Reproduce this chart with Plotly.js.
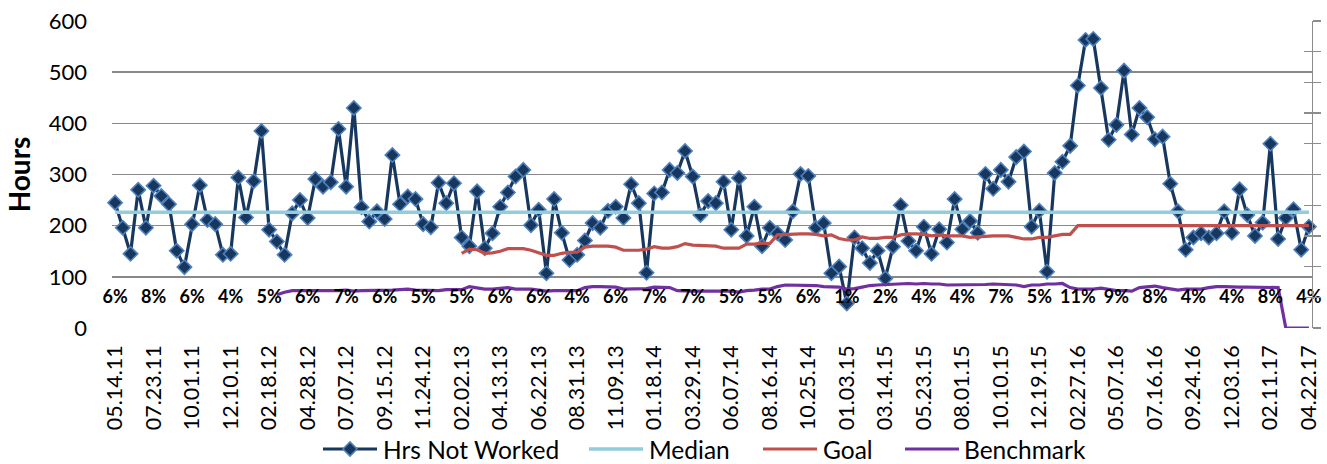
<!DOCTYPE html>
<html><head><meta charset="utf-8">
<script src="https://cdn.plot.ly/plotly-3.0.1.min.js"></script>
<style>html,body{margin:0;padding:0;background:#fff}#chart{width:1327px;height:464px}</style>
</head><body><div id="chart"></div>
<script>
const tickLabels = ["05.14.11","07.23.11","10.01.11","12.10.11","02.18.12","04.28.12","07.07.12","09.15.12","11.24.12","02.02.13","04.13.13","06.22.13","08.31.13","11.09.13","01.18.14","03.29.14","06.07.14","08.16.14","10.25.14","01.03.15","03.14.15","05.23.15","08.01.15","10.10.15","12.19.15","02.27.16","05.07.16","07.16.16","09.24.16","12.03.16","02.11.17","04.22.17"];
const labelEvery = 5;

const hrsNotWorked = [
245,196,145,270,196,278,258,242,151,119,
203,279,211,203,143,145,294,216,287,385,
192,169,143,224,250,215,291,276,285,389,
276,430,236,208,228,213,338,242,257,252,
203,197,284,244,283,177,160,267,156,185,
237,265,296,309,201,231,107,252,186,133,
143,171,205,196,229,237,215,281,244,108,
263,265,309,303,346,296,221,248,244,286,
192,293,180,237,160,196,185,172,228,301,
297,196,205,107,120,48,177,156,127,151,
97,159,240,170,151,198,145,193,167,252,
193,209,186,301,272,309,286,334,345,198,
229,110,303,325,356,474,563,565,469,368,
397,503,378,430,412,369,374,282,228,153,
177,185,177,185,228,186,271,221,180,206,
360,174,215,232,153,198];

const medianValue = 226;

const goalStart = 45;
const goal = [
146,154,153,146,147,150,155,155,155,152,
147,142,142,146,148,148,158,160,160,160,
158,152,152,152,154,159,156,156,159,165,
162,161,161,160,156,156,156,164,164,166,
165,182,183,184,184,184,183,180,182,175,
172,172,178,175,175,177,177,182,184,184,
183,180,182,180,180,180,177,178,180,180,
180,180,177,174,174,177,177,180,183,183,
200,200,200,200,200,200,200,200,200,200,
200,200,200,200,200,200,200,200,200,200,
200,200,200,200,200,200,200,200,200,200,200];

const benchmarkStart = 21;
const benchmark = [
65,70,73,73,73,73,72,72,73,74,
72,73,73,74,74,74,75,76,74,74,
74,73,75,75,75,81,79,76,76,78,
79,76,76,76,74,72,73,73,73,73,
79,81,81,81,80,76,76,76,77,80,
79,79,73,72,72,72,72,72,72,72,
70,73,74,76,76,81,84,84,84,84,
83,81,81,80,76,77,80,83,84,85,
86,87,87,86,87,86,86,84,84,84,
84,85,85,86,85,85,84,81,84,84,
86,86,87,79,76,76,76,78,76,73,
73,72,79,81,82,79,77,74,76,76,
76,79,81,81,80,80,80,80,80,80,
79,0,0,0,0];

const pctLabels = ["6%","8%","6%","4%","5%","6%","7%","6%","5%","5%","6%","6%","4%","6%","7%","7%","5%","5%","6%","1%","2%","4%","4%","7%","5%","11%","9%","8%","4%","4%","8%","4%"];
const pctLabelHeight = 58;

const seriesNames = ["Hrs Not Worked", "Median", "Goal", "Benchmark"];
const seriesColors = ["#17375E", "#93CDDD", "#C0504D", "#7030A0"];

const idx = (arr, start) => arr.map((_, i) => i + start);
const n = hrsNotWorked.length;
const xAll = idx(hrsNotWorked, 0);
const tickVals = tickLabels.map((_, i) => i * labelEvery);
const pctX = pctLabels.map((_, i) => i * labelEvery);

const FONT = 'Lato, "Open Sans", sans-serif';

const traces = [
  {x: xAll, y: hrsNotWorked, name: seriesNames[0], type: 'scatter', mode: 'lines+markers',
   line: {color: seriesColors[0], width: 3.2},
   marker: {symbol: 'diamond', size: 11, color: seriesColors[0], line: {color: '#4F81BD', width: 1.6}},
   cliponaxis: false},
  {x: xAll, y: xAll.map(() => medianValue), name: seriesNames[1], type: 'scatter', mode: 'lines',
   line: {color: seriesColors[1], width: 3.5}},
  {x: idx(goal, goalStart), y: goal, name: seriesNames[2], type: 'scatter', mode: 'lines',
   line: {color: seriesColors[2], width: 3.2}},
  {x: idx(benchmark, benchmarkStart), y: benchmark, name: seriesNames[3], type: 'scatter', mode: 'lines',
   line: {color: seriesColors[3], width: 3.2}, cliponaxis: false},
  {x: pctX, y: pctX.map(() => pctLabelHeight), text: pctLabels, type: 'scatter', mode: 'text',
   textfont: {family: FONT, size: 18, color: '#000', weight: 700},
   cliponaxis: false, hoverinfo: 'skip'},
  {x: [null], y: [null], yaxis: 'y2', hoverinfo: 'skip', type: 'scatter'},
  {x: [null], y: [null], yaxis: 'y3', hoverinfo: 'skip', type: 'scatter'}
];

const rightAxis = (ticks) => ({
  overlaying: 'y', side: 'right', anchor: 'x', range: [0, 10], dtick: 1,
  showline: true, linecolor: '#8c8c8c', linewidth: 1.3,
  ticks: ticks, ticklen: 8, tickcolor: '#8c8c8c', tickwidth: 1.3,
  showticklabels: false, showgrid: false, zeroline: false, fixedrange: true
});

// Legend drawn as shapes + text annotations (pixel layout of the reference legend row)
const PL = 112, PW = 1200, PB = 328, PH = 307;
const px2x = (px) => (px - PL) / PW;
const py2y = (py) => (PB - py) / PH;
const legendY = py2y(449);
const legendSampleStart = [323, 589, 763, 905];
const legendSampleLen = 54;
const legendTextStart = [381, 647, 821, 962];

const shapes = [];
const annotations = [];
seriesNames.forEach((name, i) => {
  shapes.push({type: 'line', xref: 'paper', yref: 'paper',
    x0: px2x(legendSampleStart[i]), x1: px2x(legendSampleStart[i] + legendSampleLen),
    y0: legendY, y1: legendY, line: {color: seriesColors[i], width: i === 1 ? 3.5 : 3.2}});
  annotations.push({xref: 'paper', yref: 'paper', x: px2x(legendTextStart[i]), y: legendY,
    xanchor: 'left', yanchor: 'middle', showarrow: false, text: name,
    font: {family: FONT, size: 24.5, color: '#000'}});
});
shapes.push({type: 'path', xref: 'paper', yref: 'paper', xsizemode: 'pixel', ysizemode: 'pixel',
  xanchor: px2x(legendSampleStart[0] + legendSampleLen / 2), yanchor: legendY,
  path: 'M -7 0 L 0 7 L 7 0 L 0 -7 Z', fillcolor: seriesColors[0], line: {color: '#4F81BD', width: 1.6}});

const layout = {
  width: 1327, height: 464,
  margin: {l: PL, r: 15, t: 21, b: 136, autoexpand: false},
  paper_bgcolor: '#fff', plot_bgcolor: '#fff',
  font: {family: FONT, color: '#000'},
  showlegend: false,
  shapes: shapes,
  annotations: annotations,
  xaxis: {range: [-0.4, n - 1 + 0.4], tickmode: 'array', tickvals: tickVals, ticktext: tickLabels,
          tickangle: -90, ticks: '', showgrid: false, zeroline: false, showline: false,
          tickfont: {family: FONT, size: 21.5, color: '#000'}, ticklabelstandoff: 12, automargin: false},
  yaxis: {range: [0, 600], dtick: 100, ticks: '', showgrid: true, gridcolor: '#888888', gridwidth: 1.4,
          zeroline: false, showline: false, tickfont: {family: FONT, size: 22, color: '#000'},
          ticklabelstandoff: 24, automargin: false,
          title: {text: '<b>Hours</b>', font: {family: FONT, size: 28, color: '#000'}, standoff: 9}},
  yaxis2: rightAxis('outside'),
  yaxis3: rightAxis('inside')
};

Plotly.newPlot('chart', traces, layout, {displayModeBar: false, staticPlot: true});
</script>
</body></html>
